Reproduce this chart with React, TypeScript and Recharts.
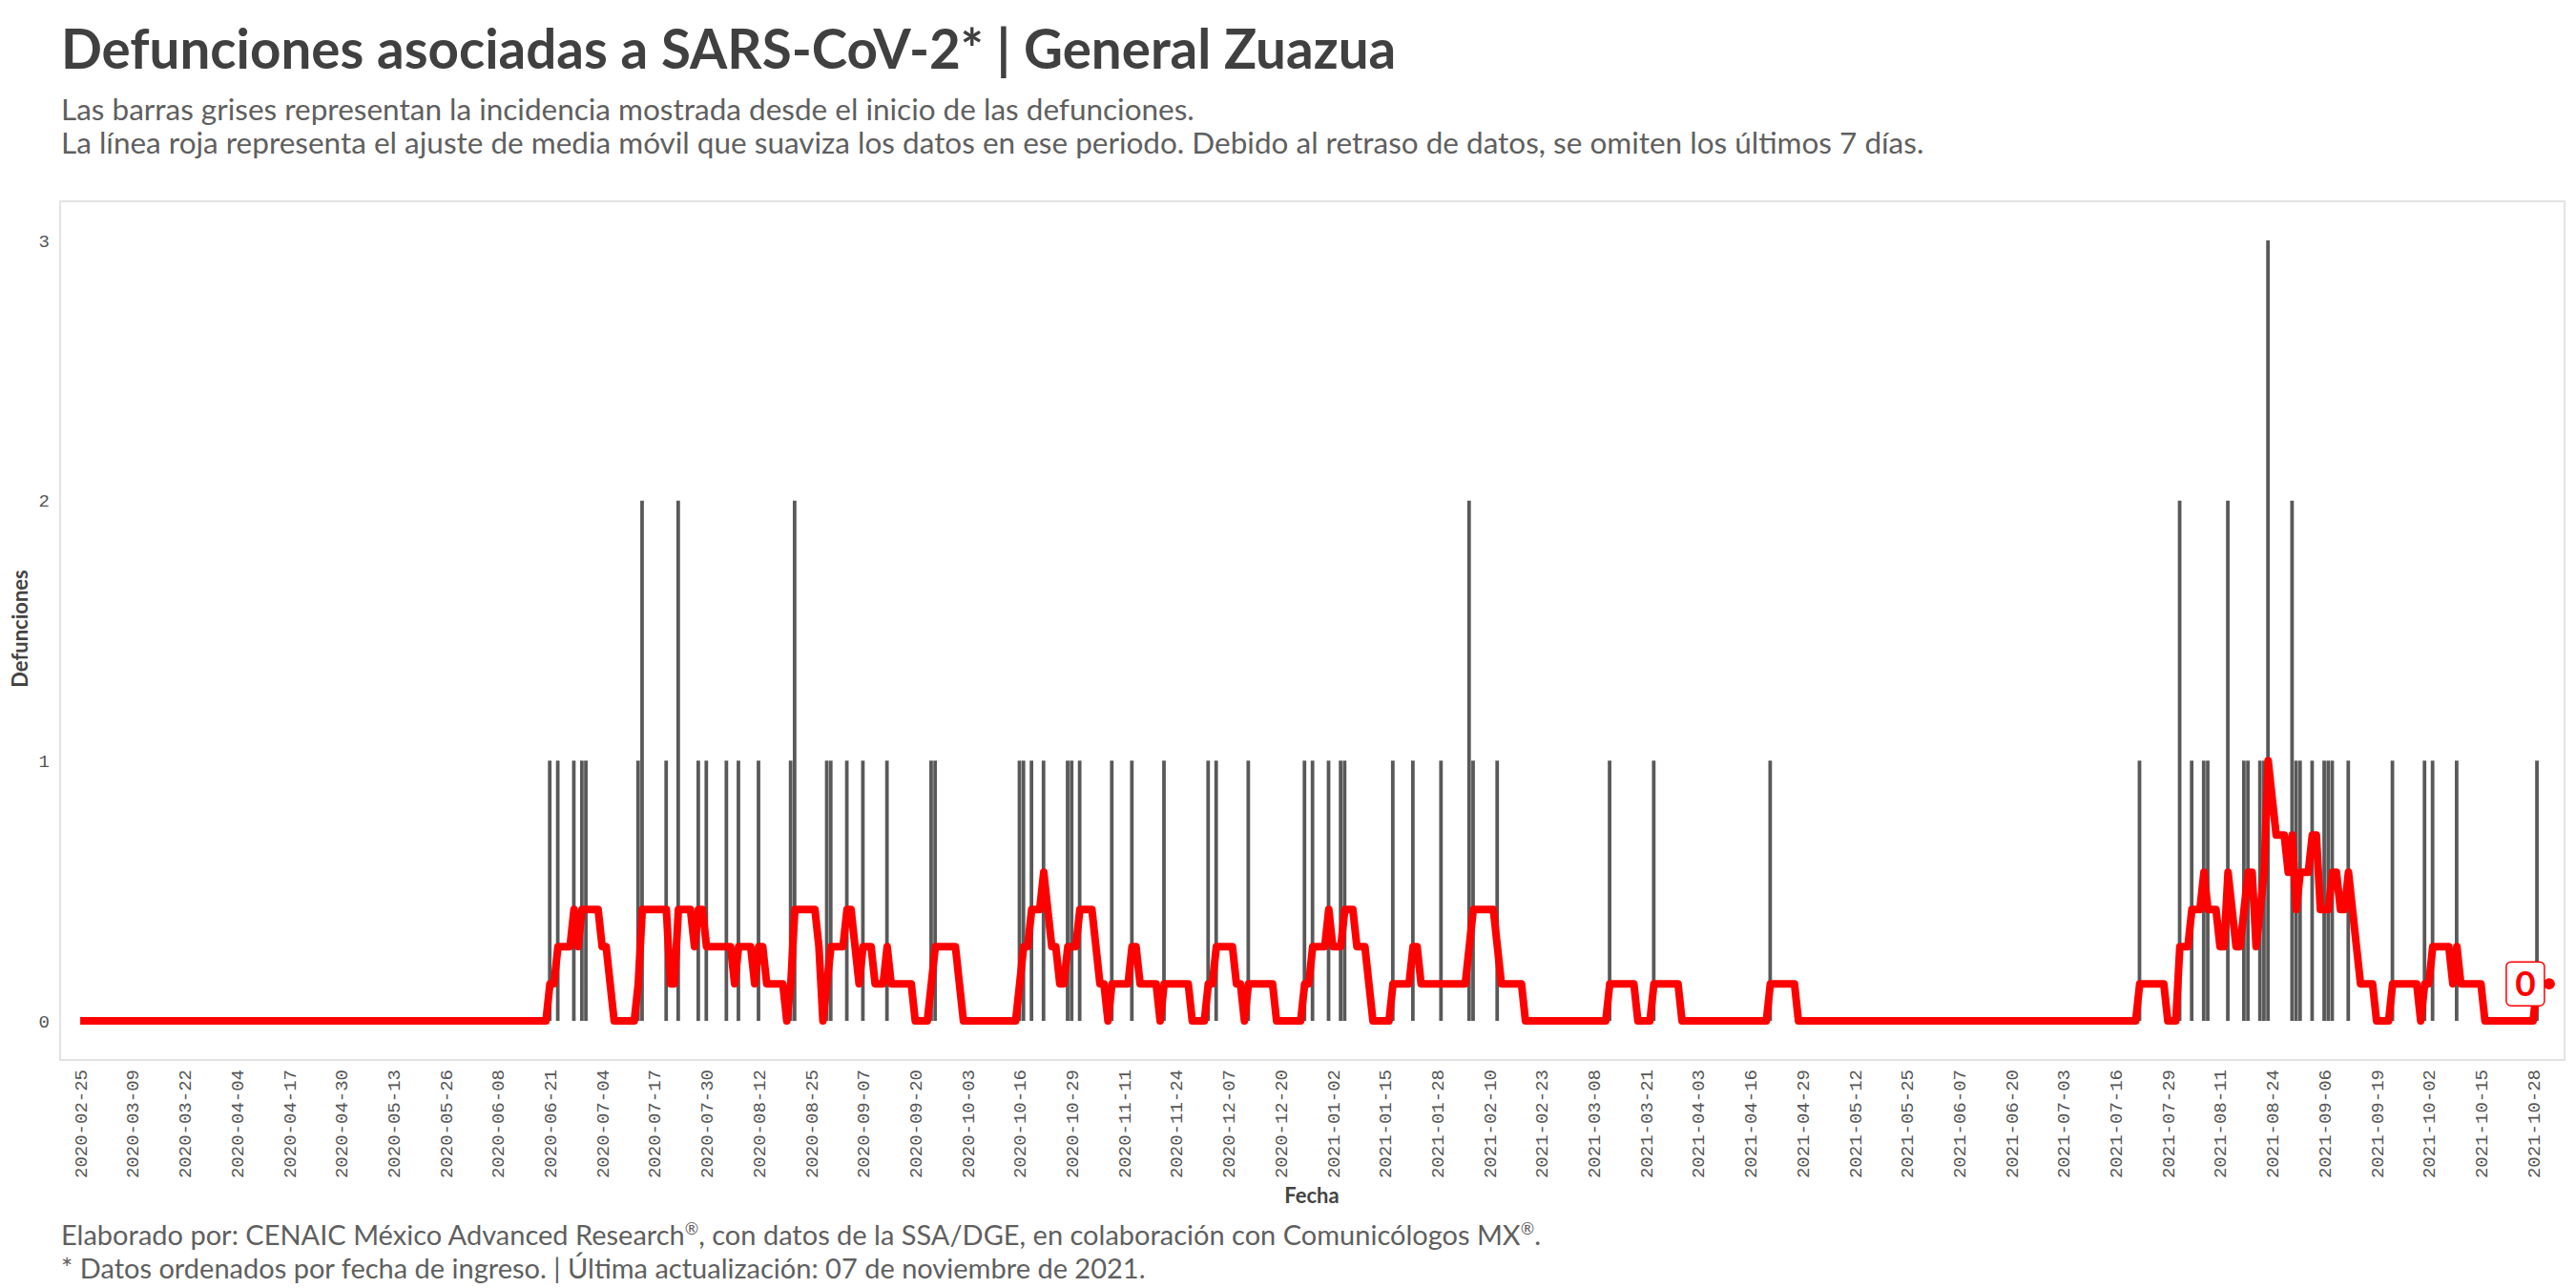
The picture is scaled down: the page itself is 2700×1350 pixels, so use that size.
import { Bar, ComposedChart, Line, XAxis, YAxis } from "recharts";

// Serie diaria desde el 2020-02-25 hasta el 2021-11-01 (se omiten los últimos 7 días)
const fechaInicio = "2020-02-25";
const totalDias = 616;

const fechasConDefuncion = [
  "2020-06-21", "2020-06-23", "2020-06-27", "2020-06-29", "2020-06-30",
  "2020-07-13", "2020-07-14", "2020-07-20", "2020-07-23", "2020-07-28",
  "2020-07-30", "2020-08-04", "2020-08-07", "2020-08-12", "2020-08-20",
  "2020-08-21", "2020-08-29", "2020-08-30", "2020-09-03", "2020-09-07",
  "2020-09-13", "2020-09-24", "2020-09-25", "2020-10-16", "2020-10-17",
  "2020-10-19", "2020-10-22", "2020-10-28", "2020-10-29", "2020-10-31",
  "2020-11-08", "2020-11-13", "2020-11-21", "2020-12-02", "2020-12-04",
  "2020-12-12", "2020-12-26", "2020-12-28", "2021-01-01", "2021-01-04",
  "2021-01-05", "2021-01-17", "2021-01-22", "2021-01-29", "2021-02-05",
  "2021-02-06", "2021-02-12", "2021-03-12", "2021-03-23", "2021-04-21",
  "2021-07-22", "2021-08-01", "2021-08-04", "2021-08-07", "2021-08-08",
  "2021-08-13", "2021-08-17", "2021-08-18", "2021-08-21", "2021-08-22",
  "2021-08-23", "2021-08-29", "2021-08-30", "2021-08-31", "2021-09-03",
  "2021-09-06", "2021-09-07", "2021-09-08", "2021-09-12", "2021-09-23",
  "2021-10-01", "2021-10-03", "2021-10-09", "2021-10-29",
];
const defuncionesDiarias = [
  1, 1, 1, 1, 1,
  1, 2, 1, 2, 1,
  1, 1, 1, 1, 1,
  2, 1, 1, 1, 1,
  1, 1, 1, 1, 1,
  1, 1, 1, 1, 1,
  1, 1, 1, 1, 1,
  1, 1, 1, 1, 1,
  1, 1, 1, 1, 2,
  1, 1, 1, 1, 1,
  1, 2, 1, 1, 1,
  2, 1, 1, 1, 1,
  3, 2, 1, 1, 1,
  1, 1, 1, 1, 1,
  1, 1, 1, 1,
];
const ticksY = [0, 1, 2, 3];

function sumarDias(fecha: string, dias: number): string {
  const d = new Date(`${fecha}T00:00:00Z`);
  d.setUTCDate(d.getUTCDate() + dias);
  return d.toISOString().slice(0, 10);
}

const conteoPorFecha = new Map(
  fechasConDefuncion.map((f, i) => [f, defuncionesDiarias[i]] as [string, number])
);
const fechas = Array.from({ length: totalDias }, (_, i) => sumarDias(fechaInicio, i));
const defunciones = fechas.map((f) => conteoPorFecha.get(f) ?? 0);

// La línea roja es la media móvil de 7 días (ventana hacia atrás) de las barras
const datos = fechas.map((fecha, i) => {
  const ventana = defunciones.slice(Math.max(0, i - 6), i + 1);
  return {
    fecha,
    defunciones: defunciones[i],
    mediaMovil: ventana.reduce((a, b) => a + b, 0) / 7,
  };
});

const ultimo = totalDias - 1;
const gris = "#595959";
const rojo = "#ff0000";
const fuente = "Lato, 'Noto Sans', sans-serif";
const fuenteEjes = "'Liberation Mono', 'DejaVu Sans Mono', monospace";

function FechaTick(props: any) {
  const { x, y, payload } = props;
  return (
    <text
      x={x}
      y={y + 2}
      transform={`rotate(-90 ${x} ${y + 2})`}
      textAnchor="end"
      dy="0.35em"
      fill="#555"
      fontSize={19}
      fontFamily={fuenteEjes}
    >
      {payload.value}
    </text>
  );
}

function PuntoFinal(props: any) {
  const { cx, cy, index } = props;
  if (index !== ultimo) return <g key={`p-${index}`} />;
  return <circle key="punto-final" cx={cx} cy={cy} r={6} fill={rojo} />;
}

function EtiquetaFinal(props: any) {
  const { x, y, index, value } = props;
  if (index !== ultimo) return <g key={`e-${index}`} />;
  return (
    <g key="etiqueta-final">
      <rect x={x - 45} y={y - 23} width={40} height={46} rx={5} fill="#fff" stroke={rojo} strokeWidth={1.5} />
      <text
        x={x - 25}
        y={y}
        dy="0.36em"
        textAnchor="middle"
        fill={rojo}
        fontSize={37}
        fontWeight={700}
        fontFamily={fuente}
      >
        {Math.round(Number(value))}
      </text>
    </g>
  );
}

export default function App() {
  return (
    <div
      style={{
        position: "absolute",
        left: 0,
        top: 0,
        width: 2700,
        height: 1350,
        background: "#fff",
        fontFamily: fuente,
        overflow: "hidden",
      }}
    >
      <div
        style={{
          position: "absolute",
          left: 64,
          top: 17,
          fontSize: 56.5,
          fontWeight: 700,
          color: "#404040",
          lineHeight: 1.2,
          whiteSpace: "nowrap",
        }}
      >
        Defunciones asociadas a SARS-CoV-2* | General Zuazua
      </div>
      <div
        style={{
          position: "absolute",
          left: 64,
          top: 97,
          fontSize: 31.5,
          color: "#5f5f5f",
          lineHeight: "35px",
          whiteSpace: "nowrap",
        }}
      >
        <div>Las barras grises representan la incidencia mostrada desde el inicio de las defunciones.</div>
        <div>
          La línea roja representa el ajuste de media móvil que suaviza los datos en ese periodo. Debido al
          retraso de datos, se omiten los últimos 7 días.
        </div>
      </div>

      {/* borde del panel */}
      <div
        style={{
          position: "absolute",
          left: 62,
          top: 210,
          width: 2627,
          height: 902,
          border: "2px solid #e3e3e3",
          boxSizing: "border-box",
        }}
      />

      <div style={{ position: "absolute", left: 0, top: 0 }}>
        <ComposedChart
          width={2700}
          height={1350}
          data={datos}
          margin={{ top: 211, right: 12, bottom: 109, left: 8 }}
        >
          <XAxis
            dataKey="fecha"
            interval={12}
            height={130}
            padding={{ left: 19, right: 14 }}
            tickLine={false}
            axisLine={false}
            tick={<FechaTick />}
          />
          <YAxis
            type="number"
            domain={[-0.15, 3.15]}
            ticks={ticksY}
            width={55}
            tickLine={false}
            axisLine={false}
            tickMargin={5}
            tick={{ fill: "#555", fontSize: 19, fontFamily: fuenteEjes }}
          />
          <Bar dataKey="defunciones" fill={gris} barSize={5} isAnimationActive={false} />
          <Line
            type="linear"
            dataKey="mediaMovil"
            stroke={rojo}
            strokeWidth={8}
            strokeLinejoin="round"
            dot={PuntoFinal}
            activeDot={false}
            label={EtiquetaFinal}
            isAnimationActive={false}
          />
        </ComposedChart>
      </div>

      <div
        style={{
          position: "absolute",
          left: 20,
          top: 659,
          transform: "translate(-50%, -50%) rotate(-90deg)",
          fontSize: 22,
          fontWeight: 700,
          color: "#444",
          whiteSpace: "nowrap",
        }}
      >
        Defunciones
      </div>
      <div
        style={{
          position: "absolute",
          left: 1375,
          top: 1252,
          transform: "translate(-50%, -50%)",
          fontSize: 22,
          fontWeight: 700,
          color: "#444",
        }}
      >
        Fecha
      </div>
      <div
        style={{
          position: "absolute",
          left: 64,
          top: 1270,
          fontSize: 29,
          color: "#5f5f5f",
          lineHeight: "35px",
          whiteSpace: "nowrap",
        }}
      >
        <div>
          Elaborado por: CENAIC México Advanced Research<sup style={{ fontSize: "0.6em" }}>®</sup>, con datos de
          la SSA/DGE, en colaboración con Comunicólogos MX<sup style={{ fontSize: "0.6em" }}>®</sup>.
        </div>
        <div>* Datos ordenados por fecha de ingreso. | Última actualización: 07 de noviembre de 2021.</div>
      </div>
    </div>
  );
}
